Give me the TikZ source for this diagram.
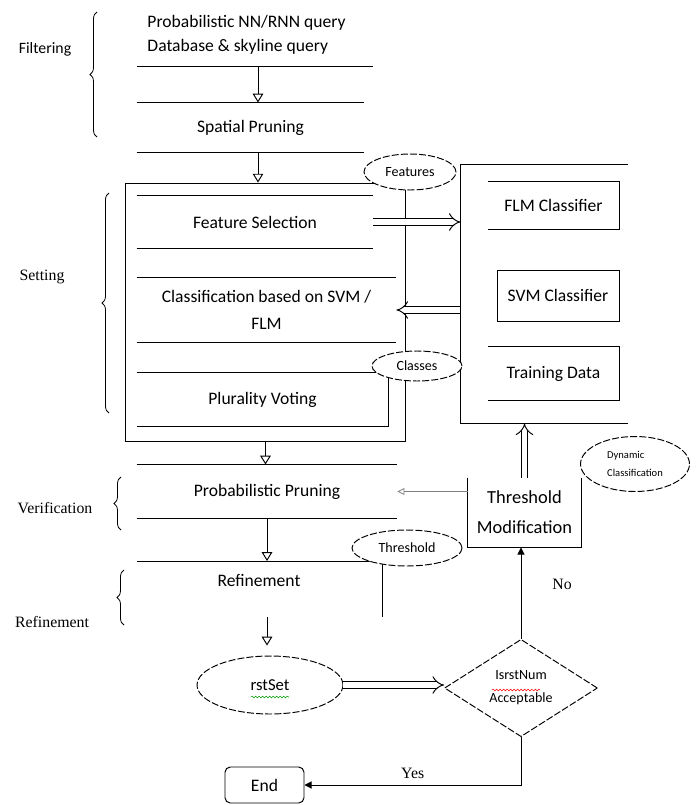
\documentclass[tikz,border=0pt]{standalone}
\usepackage{fontspec}
\setmainfont{Carlito}
\newfontfamily\timesfont{Liberation Serif}
\usetikzlibrary{arrows.meta}
\usetikzlibrary{positioning}
\usetikzlibrary{shapes.geometric}
\usetikzlibrary{decorations.pathreplacing}
\usetikzlibrary{decorations.pathmorphing}
\tikzset{open arrow/.style = {-{Triangle[open, length=5pt, width=6pt]}},
         fat arrow/.style = {double, double distance=3pt, -{Implies[length=8pt]}},
         solid arrow/.style = {-{Triangle[length=4pt, width=4pt]}},
         bubble/.style = {draw, ellipse, dash pattern=on 4pt off 1.2pt, fill=white, inner sep=0pt,
                          font=\fontsize{8}{10}\selectfont},
         section/.style = {inner sep=0pt, font=\fontsize{10}{14}\selectfont},
         stage/.style = {font=\timesfont\fontsize{9}{11}\selectfont},
         stage brace/.style = {decorate, decoration={brace, amplitude=4pt}, line width=0.45pt},
         spell/.style = {decorate, decoration={snake, amplitude=0.5pt, segment length=2pt}, line width=0.3pt}}

\begin{document}
\begin{tikzpicture}[x=0.02cm, y=-0.02cm, line width=0.55pt]
  \useasboundingbox (0,0) rectangle (699,805);
  \coordinate (ax) at (258,0);

  % filtering
  \node (qry) at (147,35) [section, anchor=west, align=left] {Probabilistic NN/RNN query\\Database \& skyline query};
  \coordinate (ql) at (137,66);
  \draw (ql) -- +(236,0);
  \node (spr) at (250.5,127.5) [section, minimum width=4.54cm, minimum height=0.98cm] {Spatial Pruning};
  \draw (spr.north west) -- (spr.north east) (spr.south west) -- (spr.south east);
  \draw [open arrow] (ql -| ax) -- (spr.north -| ax);

  % setting
  \node (setbox) at (265.5,312.5) [draw, minimum width=5.62cm, minimum height=5.18cm] {};
  \draw [open arrow] (spr.south -| ax) -- (setbox.north -| ax);
  \node (fsel) at (255,222) [section, minimum width=4.72cm, minimum height=1.04cm] {Feature Selection};
  \node (cbs) at (266.5,310) [section, align=center, font=\fontsize{10}{15}\selectfont,
                              minimum width=5.18cm, minimum height=1.28cm] {Classification based on SVM /\\FLM};
  \node (pv) at (262.5,399.5) [section, minimum width=5.02cm, minimum height=1.06cm] {Plurality Voting};
  \foreach \n in {fsel, cbs}
    \draw (\n.north west) -- (\n.north east) (\n.south west) -- (\n.south east);
  \draw (pv.north west) -- (pv.north east) -- (pv.south east) -- (pv.south west);

  % classifiers
  \node (clsbox) at (544.5,294) [minimum width=3.34cm, minimum height=5.16cm] {};
  \node (flm) at (553.5,205.5) [section, minimum width=2.62cm, minimum height=0.94cm] {FLM Classifier};
  \draw (flm.north west) -- (flm.north east) -- (flm.south east) -- (flm.south west);
  \node (svm) at (558,295.5) [section, draw, minimum width=2.44cm, minimum height=1.02cm] {SVM Classifier};
  \node (trn) at (553.5,373.5) [section, minimum width=2.62cm, minimum height=1.06cm] {Training Data};
  \draw (trn.north west) -- (trn.north east) -- (trn.south east) -- (trn.south west);
  \draw [fat arrow] (fsel.east) -- (fsel.east -| clsbox.west);
  \draw [fat arrow] (clsbox.west |- cbs.east) -- (cbs.east);
  \draw (clsbox.north east) -- (clsbox.north west) -- (clsbox.south west) -- (clsbox.south east);

  % verification and refinement
  \node (prp) at (267,491.5) [section, minimum width=5.2cm, minimum height=1.06cm] {Probabilistic Pruning};
  \draw (prp.north west) -- (prp.north east) (prp.south west) -- (prp.south east);
  \draw [open arrow] (setbox.south) -- (setbox.south |- prp.north);
  \coordinate (rl) at (137,561);
  \draw (rl) -- (380,561);
  \draw [open arrow] (prp.south) -- (prp.south |- rl);
  \node (ref) at (259,580) [section] {Refinement};
  \draw (382,548) -- (382,617);
  \coordinate (rf) at (267,617);

  % threshold loop
  \node (tm) at (524.5,512.5) [section, align=center, font=\fontsize{10.5}{17}\selectfont,
                               minimum width=2.26cm, minimum height=1.38cm] {Threshold\\Modification};
  \draw (tm.north west) -- (tm.south west) -- (tm.south east) -- (tm.north east);
  \draw [fat arrow] (tm.north) -- (tm.north |- clsbox.south);
  \draw [gray, line width=0.45pt, -{Triangle[open, length=4pt, width=4pt]}] (tm.west |- prp.east) -- (prp.east);

  % labels in ellipses
  \node (feat) at (410,172) [bubble, minimum width=1.84cm, minimum height=0.72cm] {Features};
  \node (cls) at (417,366) [bubble, minimum width=1.8cm, minimum height=0.6cm] {Classes};
  \node (thr) at (407,548) [bubble, minimum width=2.2cm, minimum height=0.72cm] {Threshold};
  \node (dyn) at (635,464) [bubble, align=left, font=\fontsize{6}{10}\selectfont,
                            minimum width=2.18cm, minimum height=1.1cm] {Dynamic\\Classification};
  \node (rst) at (270,685) [bubble, font=\fontsize{9.5}{12}\selectfont,
                            minimum width=2.92cm, minimum height=1.16cm] {rstSet};
  \node (dia) at (521,688) [draw, diamond, dash pattern=on 4pt off 1.2pt, inner sep=0pt, align=center,
                            font=\fontsize{8}{13}\selectfont, minimum width=3.06cm, minimum height=1.8cm]
                           {IsrstNum\\Acceptable};
  \draw [spell, green!60!black] (251,697) -- (289,697);
  \draw [spell, red] (492,690) -- (540,690);
  \node (fin) at (264.5,785) [section, draw, rounded corners=3pt, minimum width=1.58cm, minimum height=0.72cm] {End};

  \draw [open arrow] (rf) -- ([yshift=0.2cm]rst.north -| rf);
  \draw [fat arrow] (rst.east) -- (rst.east -| dia.west);
  \draw [solid arrow] (dia.north) -- (dia.north |- tm.south) node [pos=0.6, right=0.5cm, stage] {No};
  \draw [solid arrow] (dia.south) |- (fin.east) node [pos=0.75, above, stage] {Yes};

  % stages
  \node (filt) at (45,49) [font=\fontsize{9}{11}\selectfont] {Filtering};
  \node (sett) at (42,277) [stage] {Setting};
  \node (veri) at (55,508) [stage] {Verification};
  \node (refi) at (52,622) [stage] {Refinement};
  \draw [stage brace] (97,137) -- (97,12);
  \draw [stage brace] (109,413) -- (109,193);
  \draw [stage brace] (121,530) -- (121,477);
  \draw [stage brace] (124,625) -- (124,570);
\end{tikzpicture}
\end{document}
